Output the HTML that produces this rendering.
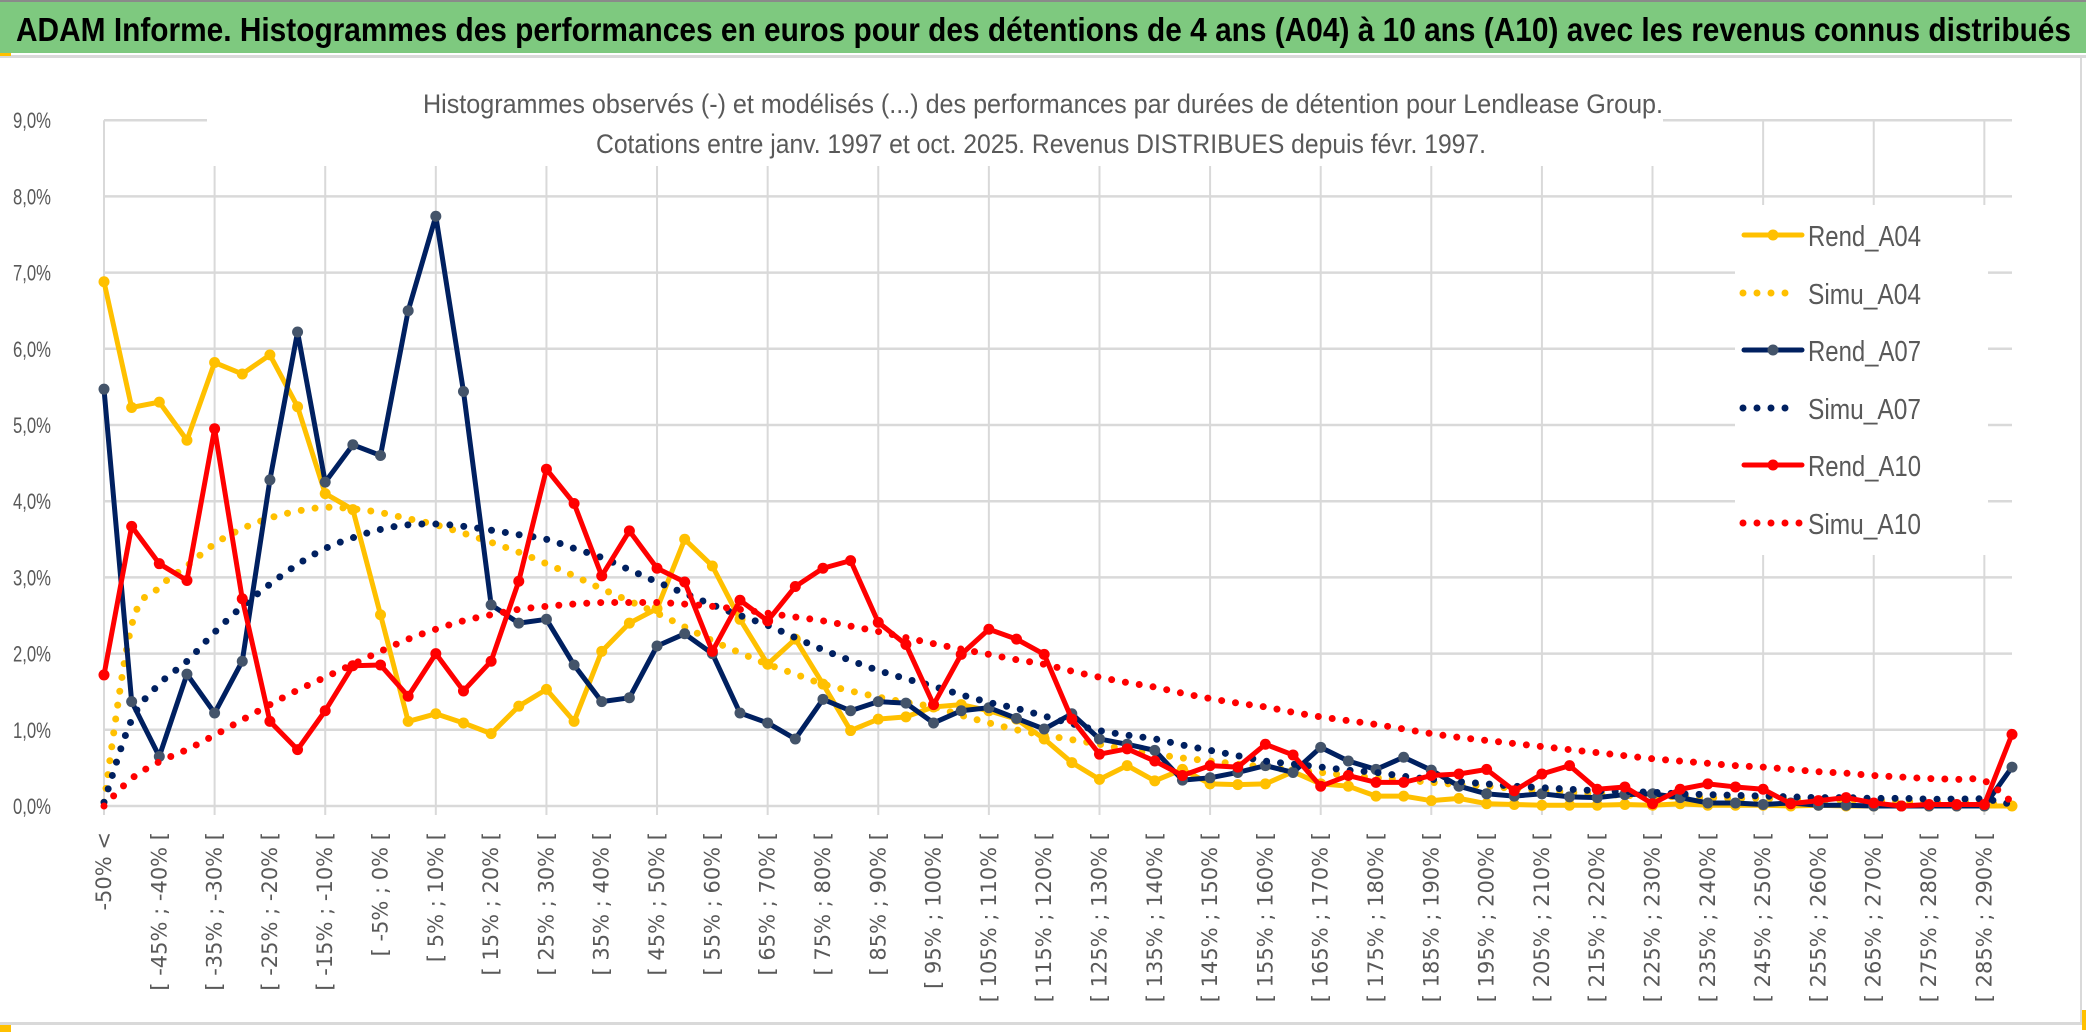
<!DOCTYPE html>
<html><head><meta charset="utf-8"><style>
html,body{margin:0;padding:0;background:#fff;}
svg{display:block;}
</style></head><body>
<svg id="chart" width="2086" height="1033" viewBox="0 0 2086 1033" xmlns="http://www.w3.org/2000/svg" font-family="'Liberation Sans Narrow','Liberation Sans',sans-serif">
  <rect x="0" y="0" width="2086" height="1033" fill="#ffffff"/>
  <rect x="0" y="0" width="2086" height="2" fill="#8a8a8a"/>
  <rect x="0" y="2" width="2086" height="51" fill="#7ec97f"/>
  <text x="16" y="41" font-size="33" font-weight="bold" fill="#000" textLength="2055" lengthAdjust="spacingAndGlyphs">ADAM Informe. Histogrammes des performances en euros pour des détentions de 4 ans (A04) à 10 ans (A10) avec les revenus connus distribués</text>
  <rect x="0" y="55" width="2086" height="3" fill="#d9d9d9"/>
  <rect x="0" y="53" width="11" height="3" fill="#ffc000"/>
  <rect x="2080" y="58" width="2" height="967" fill="#d9d9d9"/>
  <rect x="0" y="1022" width="2086" height="3" fill="#d9d9d9"/>
  <rect x="0" y="1025" width="2086" height="8" fill="#ffffff"/>
  <rect x="0" y="1025" width="11" height="7" fill="#ffc000"/>
  <rect x="2082" y="1010" width="4" height="20" fill="#ffc000"/>
  <g id="grid"></g>
  <rect x="207" y="72" width="1456" height="94" fill="#fff"/>
  <text x="1043" y="113" font-size="27" fill="#595959" text-anchor="middle" textLength="1240" lengthAdjust="spacingAndGlyphs">Histogrammes observés (-) et modélisés (...) des performances par durées de détention pour Lendlease Group.</text>
  <text x="1041" y="153" font-size="27" fill="#595959" text-anchor="middle" textLength="890" lengthAdjust="spacingAndGlyphs">Cotations entre janv. 1997 et oct. 2025. Revenus DISTRIBUES depuis févr. 1997.</text>
  <g id="axes"></g>
  <g id="series"></g>
  <g id="legend"></g>
</svg>
<script>
const categories = (function(){ const c=["-50% <"]; for(let a=-50;a<290;a+=5){c.push("[ "+a+"% ; "+(a+5)+"% [");} c.push("> 290%"); return c; })();
const yTicks = [0,1,2,3,4,5,6,7,8,9];
const yTickLabels = ["0,0%","1,0%","2,0%","3,0%","4,0%","5,0%","6,0%","7,0%","8,0%","9,0%"];
const rendA04 = [6.88,5.23,5.30,4.80,5.82,5.67,5.92,5.24,4.10,3.89,2.51,1.11,1.21,1.09,0.95,1.31,1.53,1.11,2.03,2.40,2.59,3.50,3.15,2.45,1.86,2.19,1.60,0.99,1.14,1.17,1.30,1.33,1.25,1.14,0.88,0.57,0.35,0.53,0.33,0.48,0.29,0.28,0.29,0.45,0.29,0.26,0.13,0.13,0.07,0.10,0.03,0.02,0.01,0.01,0.01,0.02,0.01,0.03,0.01,0.01,0.01,0.0,0.01,0.0,0.0,0.0,0.0,0.0,0.0,0.0];
const simuA04 = [0.05,2.37,2.87,3.15,3.44,3.64,3.78,3.87,3.92,3.90,3.85,3.77,3.69,3.58,3.46,3.33,3.18,3.02,2.85,2.69,2.53,2.35,2.17,2.01,1.86,1.73,1.60,1.51,1.43,1.36,1.30,1.19,1.09,1.00,0.93,0.87,0.81,0.74,0.68,0.63,0.59,0.55,0.51,0.47,0.44,0.40,0.37,0.34,0.31,0.28,0.26,0.23,0.20,0.18,0.16,0.14,0.13,0.12,0.11,0.10,0.10,0.09,0.08,0.08,0.07,0.06,0.05,0.05,0.04,0.01];
const rendA07 = [5.47,1.37,0.65,1.73,1.22,1.90,4.28,6.22,4.25,4.74,4.60,6.50,7.74,5.44,2.64,2.40,2.45,1.85,1.37,1.42,2.10,2.26,2.00,1.22,1.09,0.88,1.40,1.25,1.37,1.35,1.09,1.25,1.29,1.15,1.01,1.21,0.88,0.81,0.73,0.34,0.37,0.44,0.53,0.44,0.77,0.59,0.48,0.64,0.47,0.26,0.16,0.13,0.16,0.12,0.11,0.15,0.16,0.11,0.04,0.04,0.02,0.04,0.01,0.01,0.0,0.0,0.0,0.0,0.0,0.51];
const simuA07 = [0.05,1.13,1.60,1.90,2.28,2.62,2.91,3.17,3.38,3.52,3.63,3.69,3.70,3.67,3.62,3.56,3.50,3.38,3.26,3.10,2.94,2.79,2.64,2.50,2.37,2.21,2.05,1.91,1.78,1.67,1.57,1.46,1.36,1.28,1.18,1.08,0.99,0.93,0.88,0.80,0.73,0.66,0.59,0.55,0.51,0.47,0.44,0.39,0.35,0.32,0.29,0.26,0.24,0.22,0.20,0.19,0.18,0.16,0.15,0.14,0.13,0.12,0.11,0.11,0.10,0.10,0.09,0.09,0.09,0.02];
const rendA10 = [1.72,3.67,3.18,2.96,4.95,2.72,1.11,0.74,1.25,1.84,1.85,1.44,2.00,1.51,1.90,2.95,4.42,3.97,3.02,3.61,3.12,2.94,2.03,2.70,2.43,2.88,3.12,3.22,2.41,2.12,1.33,1.99,2.32,2.19,1.99,1.14,0.68,0.75,0.59,0.40,0.53,0.51,0.81,0.67,0.26,0.40,0.31,0.31,0.40,0.42,0.48,0.20,0.42,0.53,0.22,0.25,0.03,0.22,0.29,0.25,0.22,0.03,0.07,0.11,0.04,0.0,0.02,0.02,0.02,0.94];
const simuA10 = [0.0,0.36,0.58,0.74,0.93,1.13,1.33,1.52,1.69,1.86,2.03,2.19,2.32,2.43,2.51,2.58,2.62,2.65,2.67,2.67,2.67,2.65,2.62,2.58,2.53,2.48,2.43,2.36,2.29,2.21,2.13,2.06,1.99,1.92,1.86,1.77,1.69,1.62,1.56,1.48,1.41,1.35,1.30,1.23,1.17,1.12,1.07,1.01,0.95,0.90,0.86,0.82,0.78,0.74,0.70,0.66,0.62,0.59,0.56,0.53,0.51,0.48,0.45,0.43,0.40,0.38,0.36,0.35,0.33,0.05];

const NS="http://www.w3.org/2000/svg";
const X0=104, X1=2012, Y0=806, PERPCT=76.2;
function xPos(i){ return X0 + i*(X1-X0)/(categories.length-1); }
function yPos(v){ return Y0 - v*PERPCT; }
function mk(tag, attrs, parent){ const e=document.createElementNS(NS,tag); for(const k in attrs) e.setAttribute(k, attrs[k]); parent.appendChild(e); return e; }

const grid=document.getElementById('grid');
yTicks.forEach(function(t){
  const l=mk('line',{x1:X0,x2:X1,y1:yPos(t),y2:yPos(t),stroke:'#d9d9d9','stroke-width':2.5},grid);
  
  
});
for(let i=0;i<categories.length;i+=4){
  const l=mk('line',{x1:xPos(i),x2:xPos(i),y1:yPos(9),y2:Y0+9,stroke:'#d9d9d9','stroke-width':2},grid);
  
  
}

const axes=document.getElementById('axes');
yTicks.forEach(function(t,k){
  const tx=mk('text',{x:51,y:yPos(t)+8,'font-size':22,fill:'#595959','text-anchor':'end',textLength:38,lengthAdjust:'spacingAndGlyphs'},axes);
  tx.textContent=yTickLabels[k];
  
  
});
for(let i=0;i<categories.length;i+=2){
  const tx=mk('text',{transform:'translate('+(xPos(i)+7)+',832) rotate(-90)','font-size':21,fill:'#595959','text-anchor':'end','font-family':"'DejaVu Sans',sans-serif"},axes);
  tx.textContent=categories[i];
  
  
}

function smoothPath(vals){
  const p=vals.map(function(v,i){return [xPos(i),yPos(v)];});
  let d='M'+p[0][0]+','+p[0][1];
  for(let i=0;i<p.length-1;i++){
    const p0=p[i-1]||p[i], p1=p[i], p2=p[i+1], p3=p[i+2]||p2;
    const t=1/6;
    d+=' C'+(p1[0]+(p2[0]-p0[0])*t)+','+(p1[1]+(p2[1]-p0[1])*t)+' '+(p2[0]-(p3[0]-p1[0])*t)+','+(p2[1]-(p3[1]-p1[1])*t)+' '+p2[0]+','+p2[1];
  }
  return d;
}
const series=document.getElementById('series');
function drawRend(vals,color,mcolor,name){
  const g=mk('g',{},series);
  
  
  const pl=mk('polyline',{points:vals.map(function(v,i){return xPos(i)+','+yPos(v);}).join(' '),fill:'none',stroke:color,'stroke-width':5,'stroke-linejoin':'round'},g);
  
  
  vals.forEach(function(v,i){
    const c=mk('circle',{cx:xPos(i),cy:yPos(v),r:5.5,fill:mcolor},g);
    
    
  });
}
function drawSimu(vals,color,name){
  const p=mk('path',{d:smoothPath(vals),fill:'none',stroke:color,'stroke-width':7,'stroke-linecap':'round','stroke-dasharray':'0 14'},series);
  
  
}
drawRend(rendA04,'#ffc000','#ffc000','rend-a04-series');
drawSimu(simuA04,'#ffc000','simu-a04-curve');
drawRend(rendA07,'#002060','#44546a','rend-a07-series');
drawSimu(simuA07,'#002060','simu-a07-curve');
drawRend(rendA10,'#ff0000','#ff0000','rend-a10-series');
drawSimu(simuA10,'#ff0000','simu-a10-curve');

const legend=document.getElementById('legend');
const lb=mk('rect',{x:1735,y:205,width:253,height:350,fill:'#fff'},legend);


const legNames=['Rend_A04','Simu_A04','Rend_A07','Simu_A07','Rend_A10','Simu_A10'];
const legColors=['#ffc000','#ffc000','#002060','#002060','#ff0000','#ff0000'];
const legMarker=['#ffc000','','#44546a','','#ff0000',''];
const legY=[235,293,350,408,465,523];
legNames.forEach(function(nm,k){
  const g=mk('g',{},legend);
  
  
  const y=legY[k];
  if(k%2===0){
    mk('line',{x1:1744,x2:1802,y1:y,y2:y,stroke:legColors[k],'stroke-width':5,'stroke-linecap':'round'},g);
    mk('circle',{cx:1773,cy:y,r:5.5,fill:legMarker[k]},g);
  } else {
    mk('line',{x1:1743,x2:k===5?1801:1788,y1:y,y2:y,stroke:legColors[k],'stroke-width':7,'stroke-linecap':'round','stroke-dasharray':'0 14'},g);
  }
  const t=mk('text',{x:1808,y:y+11,'font-size':29,fill:'#595959',textLength:113,lengthAdjust:'spacingAndGlyphs'},g);
  t.textContent=nm;
});
</script>
</body></html>
